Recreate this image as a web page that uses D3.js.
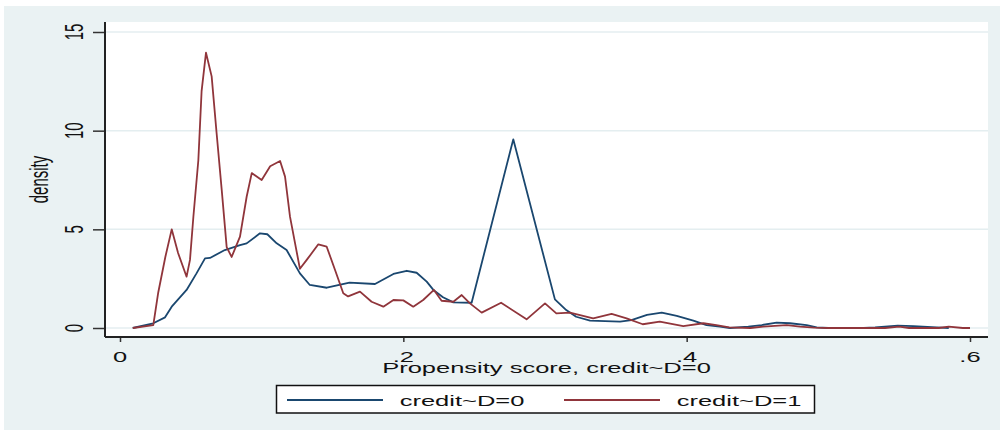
<!DOCTYPE html>
<html>
<head>
<meta charset="utf-8">
<script src="https://cdn.jsdelivr.net/npm/d3@7"></script>
<style>
  body { margin: 0; background: #fff; }
  text { font-family: "Liberation Sans", Arial, sans-serif; fill: #111; }
</style>
</head>
<body>
<svg width="1000" height="430"></svg>
<script>
// kernel density, credit~D=0 (blue)
const scoreD0 = [0.009, 0.0235, 0.0318, 0.0365, 0.047, 0.054, 0.060, 0.0635, 0.074, 0.0847, 0.0894, 0.0988, 0.104, 0.1106, 0.1176, 0.127, 0.134, 0.146, 0.162, 0.18, 0.193, 0.2024, 0.2094, 0.2165, 0.2212, 0.228, 0.2353, 0.2482, 0.2776, 0.307, 0.315, 0.322, 0.3318, 0.353, 0.361, 0.372, 0.3824, 0.393, 0.4047, 0.414, 0.4235, 0.4306, 0.4435, 0.453, 0.4635, 0.473, 0.4847, 0.4918, 0.5, 0.525, 0.533, 0.549, 0.56, 0.5765, 0.585];
const densD0 = [0, 0.24, 0.54, 1.08, 1.93, 2.77, 3.53, 3.55, 3.95, 4.2, 4.29, 4.8, 4.75, 4.29, 3.95, 2.77, 2.18, 2.04, 2.3, 2.23, 2.74, 2.9, 2.8, 2.35, 1.93, 1.56, 1.3, 1.28, 9.56, 1.45, 0.91, 0.57, 0.37, 0.32, 0.4, 0.66, 0.78, 0.61, 0.37, 0.15, 0.07, 0, 0.07, 0.15, 0.27, 0.24, 0.15, 0.03, 0, 0, 0.03, 0.12, 0.1, 0.03, 0];

// kernel density, credit~D=1 (red)
const scoreD1 = [0.009, 0.0235, 0.027, 0.032, 0.0365, 0.041, 0.047, 0.0494, 0.0518, 0.0553, 0.0576, 0.0607, 0.0647, 0.0682, 0.0718, 0.0753, 0.0788, 0.0847, 0.0894, 0.093, 0.1, 0.106, 0.113, 0.1165, 0.12, 0.127, 0.1318, 0.14, 0.1459, 0.1518, 0.1576, 0.161, 0.1694, 0.1776, 0.1859, 0.193, 0.2, 0.207, 0.214, 0.2216, 0.227, 0.2353, 0.2412, 0.247, 0.2553, 0.269, 0.287, 0.3, 0.308, 0.3176, 0.334, 0.347, 0.3576, 0.369, 0.381, 0.3976, 0.4118, 0.421, 0.43, 0.445, 0.454, 0.4706, 0.48, 0.49, 0.5, 0.54, 0.55, 0.557, 0.578, 0.585, 0.595, 0.6];
const densD1 = [0, 0.15, 1.8, 3.6, 5.0, 3.8, 2.6, 3.45, 5.64, 8.5, 12.0, 13.95, 12.75, 9.87, 7.0, 4.1, 3.6, 4.63, 6.65, 7.85, 7.5, 8.2, 8.46, 7.67, 5.64, 3.0, 3.45, 4.24, 4.12, 2.94, 1.76, 1.6, 1.84, 1.33, 1.08, 1.42, 1.4, 1.08, 1.42, 1.93, 1.38, 1.33, 1.67, 1.25, 0.78, 1.28, 0.44, 1.25, 0.74, 0.78, 0.49, 0.71, 0.49, 0.19, 0.32, 0.1, 0.24, 0.15, 0.03, 0, 0.07, 0.15, 0.07, 0.02, 0, 0, 0.07, 0, 0, 0.07, 0, 0];

const xTicks = [0, 0.2, 0.4, 0.6];
const yTicks = [0, 5, 10, 15];
const seriesNames = ["credit~D=0", "credit~D=1"];
const seriesColors = ["#1a476f", "#90353b"];

const svg = d3.select("svg");
const sx = 1.7; // picture is stretched sideways, text too

const xScale = d3.scaleLinear().domain([0, 0.6]).range([120, 970]);
const yScale = d3.scaleLinear().domain([0, 15]).range([328, 32]);

const plot = { left: 105, right: 988, top: 22, bottom: 337 };

// outer background
svg.append("rect")
  .attr("x", 4).attr("y", 6)
  .attr("width", 996).attr("height", 424)
  .attr("fill", "#eaf2f3");

// plot region
svg.append("rect")
  .attr("x", plot.left).attr("y", plot.top)
  .attr("width", plot.right - plot.left).attr("height", plot.bottom - plot.top)
  .attr("fill", "#fff");

// gridlines
svg.append("g")
  .selectAll("line")
  .data(yTicks)
  .enter()
  .append("line")
  .attr("x1", plot.left).attr("x2", plot.right)
  .attr("y1", (d) => yScale(d)).attr("y2", (d) => yScale(d))
  .attr("stroke", "#e4eef0")
  .attr("stroke-width", 1.5);

const addText = (g, x, y, str, rotate) => {
  return g.append("text")
    .attr("transform", `translate(${x},${y}) scale(${sx},1)` + (rotate ? " rotate(-90)" : ""))
    .attr("text-anchor", "middle")
    .attr("font-size", 15)
    .text(str);
};

// y axis
const yAxis = svg.append("g")
  .attr("transform", `translate(${plot.left},0)`)
  .call(d3.axisLeft(yScale).tickValues(yTicks).tickSize(12).tickFormat(""));
yAxis.select(".domain").remove();
yAxis.selectAll(".tick line").attr("stroke", "#333").attr("stroke-width", 1.5);
yTicks.forEach((t) => addText(svg, 83, yScale(t), String(t), true));

// x axis
const xAxis = svg.append("g")
  .attr("transform", `translate(0,${plot.bottom})`)
  .call(d3.axisBottom(xScale).tickValues(xTicks).tickSize(5).tickFormat(""));
xAxis.select(".domain").remove();
xAxis.selectAll(".tick line").attr("stroke", "#333").attr("stroke-width", 1.5);
xTicks.forEach((t) => addText(svg, xScale(t), 362, t === 0 ? "0" : d3.format(".1f")(t).replace(/^0/, "")));

// axis lines
svg.append("line")
  .attr("x1", plot.left).attr("x2", plot.left)
  .attr("y1", plot.top).attr("y2", plot.bottom)
  .attr("stroke", "#222").attr("stroke-width", 2);
svg.append("line")
  .attr("x1", plot.left).attr("x2", plot.right)
  .attr("y1", plot.bottom).attr("y2", plot.bottom)
  .attr("stroke", "#222").attr("stroke-width", 2);

// titles
addText(svg, 48, (plot.top + plot.bottom) / 2, "density", true);
addText(svg, (plot.left + plot.right) / 2, 373, "Propensity score, credit~D=0");

// density lines
const line = d3.line()
  .x((d) => xScale(d[0]))
  .y((d) => yScale(d[1]));

const series = [
  d3.zip(scoreD0, densD0),
  d3.zip(scoreD1, densD1)
];

svg.append("g")
  .selectAll("path")
  .data(series)
  .enter()
  .append("path")
  .attr("d", line)
  .attr("fill", "none")
  .attr("stroke", (d, i) => seriesColors[i])
  .attr("stroke-width", 1.8)
  .attr("stroke-linejoin", "round");

// legend
const legend = svg.append("g");
legend.append("rect")
  .attr("x", 276.5).attr("y", 385.5)
  .attr("width", 538).attr("height", 27.5)
  .attr("fill", "#fff")
  .attr("stroke", "#111")
  .attr("stroke-width", 1.5);

const legendX = [287, 564];
seriesNames.forEach((name, i) => {
  legend.append("line")
    .attr("x1", legendX[i]).attr("x2", legendX[i] + 96)
    .attr("y1", 400).attr("y2", 400)
    .attr("stroke", seriesColors[i])
    .attr("stroke-width", 1.8);
  addText(legend, legendX[i] + 175, 405.5, name);
});
</script>
</body>
</html>
